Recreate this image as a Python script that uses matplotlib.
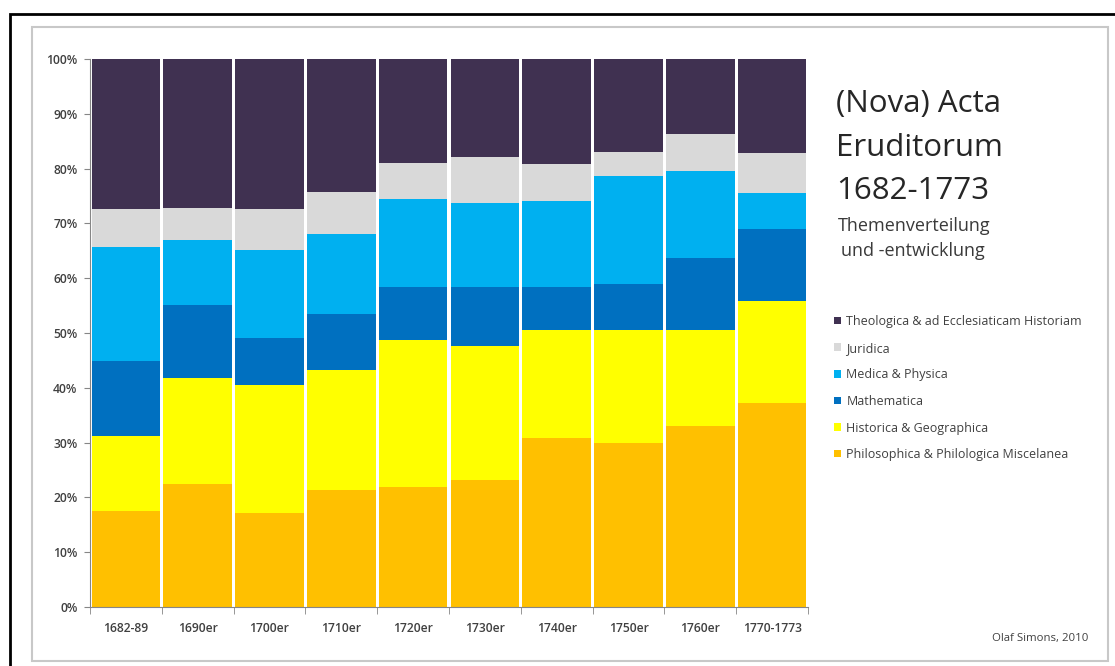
import matplotlib
matplotlib.use("Agg")
import matplotlib.pyplot as plt
from matplotlib.patches import Rectangle, Patch
import numpy as np

plt.rcParams['font.family'] = ['Open Sans', 'DejaVu Sans']

categories = ["1682-89", "1690er", "1700er", "1710er", "1720er",
              "1730er", "1740er", "1750er", "1760er", "1770-1773"]

philosophica = [17.5, 22.4, 17.2, 21.3, 21.9, 23.1, 30.9, 30.0, 33.1, 37.2]
historica    = [13.7, 19.4, 23.3, 21.9, 26.9, 24.5, 19.6, 20.5, 17.5, 18.6]
mathematica  = [13.6, 13.3, 8.5, 10.3, 9.6, 10.8, 7.9, 8.5, 13.1, 13.1]
medica       = [20.9, 11.8, 16.1, 14.5, 16.1, 15.3, 15.7, 19.7, 15.9, 6.6]
juridica     = [7.0, 6.0, 7.6, 7.7, 6.5, 8.4, 6.8, 4.4, 6.7, 7.4]
theologica   = [27.3, 27.1, 27.3, 24.3, 19.0, 17.9, 19.1, 16.9, 13.7, 17.1]

series_names = ["Philosophica & Philologica Miscelanea",
                "Historica & Geographica",
                "Mathematica",
                "Medica & Physica",
                "Juridica",
                "Theologica & ad Ecclesiaticam Historiam"]
series_colors = ["#FFC000", "#FFFF00", "#0070C0", "#00B0F0", "#D9D9D9", "#403151"]
series_values = [philosophica, historica, mathematica, medica, juridica, theologica]

W, H = 1115, 666
fig = plt.figure(figsize=(W / 100, H / 100), dpi=100)

def fx(px):
    return px / W

def fy(py):
    return 1 - py / H

# frames
fig.patches.append(Rectangle((fx(10), -0.1), 1.2, fy(14) + 0.1, transform=fig.transFigure,
                             fill=False, edgecolor="black", linewidth=2, zorder=0))
fig.patches.append(Rectangle((fx(32), fy(661)), fx(1108) - fx(32), fy(27) - fy(661),
                             transform=fig.transFigure, fill=False, edgecolor="#C8C8C8",
                             linewidth=1.5, zorder=0))

ax = fig.add_axes([fx(90), fy(607), fx(808) - fx(90), fy(59) - fy(607)])
x = np.arange(len(categories))
bottom = np.zeros(len(categories))
handles = []
for name, col, vals in zip(series_names, series_colors, series_values):
    v = np.array(vals) / 100.0
    ax.bar(x, v, bottom=bottom, width=0.955, color=col, edgecolor="none", label=name)
    bottom += v
    handles.append(Patch(facecolor=col, edgecolor="none", label=name))

ax.set_xlim(-0.5, len(categories) - 0.5)
ax.set_ylim(0, 1)
ax.set_yticks(np.arange(0, 1.01, 0.1))
ax.set_yticklabels([f"{int(round(t*100))}%" for t in np.arange(0, 1.01, 0.1)])
ax.set_xticks(x)
ax.set_xticklabels(categories)
ax.set_xticks(np.arange(-0.5, len(categories), 1.0), minor=True)
ax.tick_params(axis='x', which='major', length=0, pad=11, labelsize=8.7, labelcolor="#404040")
ax.tick_params(axis='x', which='minor', length=5, color="#868686", direction='out')
ax.tick_params(axis='y', length=4, color="#868686", labelsize=8.7, labelcolor="#404040", pad=5)
for t in ax.get_xticklabels() + ax.get_yticklabels():
    t.set_fontweight("semibold")
for s in ["top", "right"]:
    ax.spines[s].set_visible(False)
for s in ["left", "bottom"]:
    ax.spines[s].set_color("#868686")
    ax.spines[s].set_linewidth(0.8)

# title block
fig.text(fx(836), fy(104), "(Nova) Acta", fontsize=22.5, color="#262626", va="center", ha="left")
fig.text(fx(836), fy(148), "Eruditorum", fontsize=22.5, color="#262626", va="center", ha="left")
fig.text(fx(836), fy(191), "1682-1773", fontsize=22.5, color="#262626", va="center", ha="left")
fig.text(fx(838), fy(226), "Themenverteilung", fontsize=13, color="#3A3A3A", va="center", ha="left")
fig.text(fx(841), fy(251), "und -entwicklung", fontsize=13, color="#3A3A3A", va="center", ha="left")

leg = fig.legend(handles=handles[::-1], loc="upper left",
                 bbox_to_anchor=(fx(834), fy(315)), bbox_transform=fig.transFigure,
                 frameon=False, fontsize=9, handlelength=0.55, handleheight=0.55,
                 handletextpad=0.45, labelspacing=1.09, borderaxespad=0, borderpad=0)
for t in leg.get_texts():
    t.set_color("#404040")

fig.text(fx(1088), fy(638), "Olaf Simons, 2010", fontsize=8.2, color="#404040", ha="right", va="center")

fig.savefig("out.png", dpi=100)
